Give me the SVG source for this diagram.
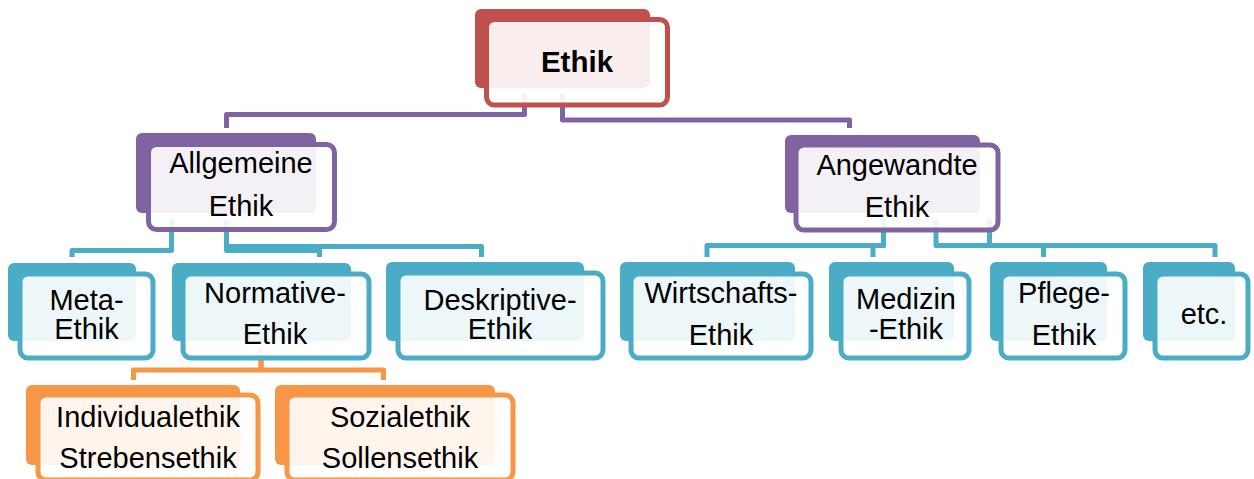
<svg xmlns="http://www.w3.org/2000/svg" width="1254" height="479" viewBox="0 0 1254 479">
<style>
.bg{fill:#ffffff}
.back{stroke:none}
.front{fill:#ffffff;fill-opacity:0.9;stroke-width:5}
.red .back{fill:#C0504D}.red .front{stroke:#C0504D}
.pur .back{fill:#8064A2}.pur .front{stroke:#8064A2}
.tea .back{fill:#4BACC6}.tea .front{stroke:#4BACC6}
.ora .back{fill:#F79646}.ora .front{stroke:#F79646}
text{font-family:"Liberation Sans",Arial,sans-serif;font-size:29px;fill:#000000;text-anchor:middle}
.b{font-weight:bold;font-size:29.5px}
.c{fill:none;stroke-width:5;stroke-linejoin:round;stroke-linecap:butt}
.cp{stroke:#8064A2}.ct{stroke:#4BACC6}.co{stroke:#F79646}
</style>
<rect class="bg" x="0" y="0" width="1254" height="479"/>
<g id="connectors">
<path class="c cp" d="M524.5,94 V114.5 H226.5 V128"/>
<path class="c cp" d="M562.5,94 V120 H849.5 V128"/>
<path class="c ct" d="M171.5,219 V250.5 H72 V257"/>
<path class="c ct" d="M226.5,219 V250.5 H319.5 V257"/>
<path class="c ct" d="M226.5,219 V246.5 H481.5 V257"/>
<path class="c ct" d="M883.5,219 V245.5 H707 V257"/>
<path class="c ct" d="M883.5,219 V245.5 H873 V257"/>
<path class="c ct" d="M936,219 V245.5 H1043.5 V257"/>
<path class="c ct" d="M989.5,219 V245.5 H1215 V257"/>
<path class="c co" d="M261,347 V370 H133.5 V380"/>
<path class="c co" d="M261,347 V370 H383.5 V380"/>
</g>
<g id="n-ethik" class="red">
<rect class="back" x="475" y="9" width="175" height="79" rx="6"/>
<rect class="front" x="486.5" y="19.5" width="181" height="85.5" rx="8"/>
<text class="b" x="577" y="72">Ethik</text>
</g>
<g id="n-allgemeine" class="pur">
<rect class="back" x="136" y="133" width="180" height="80" rx="6"/>
<rect class="front" x="148.5" y="144.5" width="186" height="85" rx="8"/>
<text x="241" y="173">Allgemeine</text>
<text x="241" y="216">Ethik</text>
</g>
<g id="n-angewandte" class="pur">
<rect class="back" x="785" y="135" width="195" height="78" rx="6"/>
<rect class="front" x="796" y="145" width="202" height="85" rx="8"/>
<text x="897" y="175">Angewandte</text>
<text x="897" y="217">Ethik</text>
</g>
<g id="n-meta" class="tea">
<rect class="back" x="8" y="263" width="128" height="78" rx="6"/>
<rect class="front" x="20" y="274" width="133" height="84" rx="8"/>
<text x="86.5" y="310">Meta-</text>
<text x="86.5" y="339">Ethik</text>
</g>
<g id="n-normative" class="tea">
<rect class="back" x="172" y="263" width="179" height="78" rx="6"/>
<rect class="front" x="183" y="274" width="186" height="84" rx="8"/>
<text x="275" y="303">Normative-</text>
<text x="275" y="344">Ethik</text>
</g>
<g id="n-deskriptive" class="tea">
<rect class="back" x="386" y="262" width="198" height="79" rx="6"/>
<rect class="front" x="398" y="273" width="205" height="85" rx="8"/>
<text x="500" y="310">Deskriptive-</text>
<text x="500" y="339">Ethik</text>
</g>
<g id="n-wirtschafts" class="tea">
<rect class="back" x="620" y="262" width="175" height="79" rx="6"/>
<rect class="front" x="631" y="274" width="180" height="84" rx="8"/>
<text x="721" y="303">Wirtschafts-</text>
<text x="721" y="345">Ethik</text>
</g>
<g id="n-medizin" class="tea">
<rect class="back" x="829" y="262" width="125" height="79" rx="6"/>
<rect class="front" x="841" y="274" width="128" height="84" rx="8"/>
<text x="906" y="309">Medizin</text>
<text x="906" y="339">-Ethik</text>
</g>
<g id="n-pflege" class="tea">
<rect class="back" x="990" y="262" width="117" height="79" rx="6"/>
<rect class="front" x="1001" y="274" width="124" height="84" rx="8"/>
<text x="1064" y="303">Pflege-</text>
<text x="1064" y="345">Ethik</text>
</g>
<g id="n-etc" class="tea">
<rect class="back" x="1143" y="262" width="92" height="79" rx="6"/>
<rect class="front" x="1155" y="274" width="93" height="84" rx="8"/>
<text x="1204" y="324">etc.</text>
</g>
<g id="n-individual" class="ora">
<rect class="back" x="26" y="385" width="214" height="80" rx="6"/>
<rect class="front" x="38" y="395" width="220" height="85" rx="8"/>
<text x="148" y="427">Individualethik</text>
<text x="148" y="468">Strebensethik</text>
</g>
<g id="n-sozial" class="ora">
<rect class="back" x="275" y="385" width="220" height="80" rx="6"/>
<rect class="front" x="287" y="395" width="226" height="85" rx="8"/>
<text x="400" y="427">Sozialethik</text>
<text x="400" y="468">Sollensethik</text>
</g>
</svg>
